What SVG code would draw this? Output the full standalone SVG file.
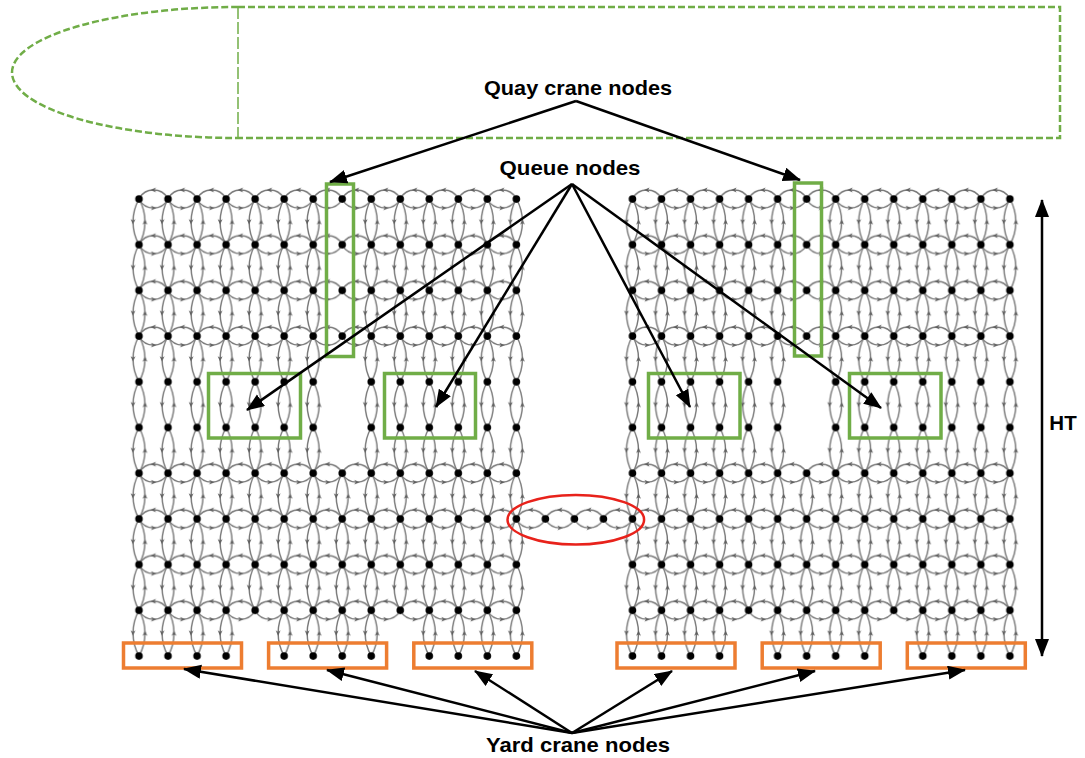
<svg xmlns="http://www.w3.org/2000/svg" width="1085" height="758" viewBox="0 0 1085 758">
<style>
.lbl{font-family:"Liberation Sans",Arial,sans-serif;font-weight:bold;font-size:20.5px;fill:#000;text-anchor:middle}
.arc{fill:none;stroke:#767676;stroke-width:1.4}
.ah{fill:#5e5e5e}
.node{fill:#000}
.qb{fill:none;stroke:#70AD47;stroke-width:3.5}
.yb{fill:none;stroke:#ED7D31;stroke-width:3.5}
.ar{fill:none;stroke:#000;stroke-width:2.5;marker-end:url(#head)}
.ship{fill:none;stroke:#70AD47;stroke-width:2.5;stroke-dasharray:7 3}
</style>
<defs>
<marker id="head" markerUnits="userSpaceOnUse" markerWidth="20" markerHeight="16" refX="17" refY="7" orient="auto-start-reverse"><path d="M0,0 L18,7 L0,14 z" fill="#000"/></marker>
<pattern id="ph" patternUnits="userSpaceOnUse" x="139" y="185" width="29.03" height="45.7">
<path class="arc" d="M0,14 A16.2,16.2 0 0 1 29.03,14 M0,14 A16.2,16.2 0 0 0 29.03,14"/>
<path class="ah" d="M11.5,5 L17,2.6 L15.5,5 L17,7.4 z M17.5,23 L12,20.6 L13.5,23 L12,25.4 z"/>
</pattern>
<pattern id="pv" patternUnits="userSpaceOnUse" x="129" y="199" width="29.03" height="45.7">
<path class="arc" d="M10,0 A46.5,46.5 0 0 0 10,45.7 M10,0 A46.5,46.5 0 0 1 10,45.7"/>
<path class="ah" d="M4,25.6 L1.6,20 L4,21.5 L6.4,20 z M16,20.1 L13.6,25.7 L16,24.2 L18.4,25.7 z"/>
</pattern>
<pattern id="pn" patternUnits="userSpaceOnUse" x="129" y="189" width="29.03" height="45.7">
<circle class="node" cx="10" cy="10" r="3.8"/>
</pattern>
</defs>
<rect width="1085" height="758" fill="#fff"/>
<g id="ship">
<path class="ship" d="M238,7 H1060 V138 H238"/>
<path class="ship" d="M238,7 A226,65.5 0 0 0 238,138"/>
<path fill="none" stroke="#70AD47" stroke-width="1.5" stroke-dasharray="12 3" d="M238,7 V138"/>
</g>
<g id="grid">
<g id="horizontal-links" fill="url(#ph)">
<rect x="139" y="185" width="377.39" height="165.1"/>
<rect x="632.51" y="185" width="377.39" height="165.1"/>
<rect x="139" y="459.2" width="377.39" height="165.1"/>
<rect x="632.51" y="459.2" width="377.39" height="165.1"/>
<rect x="516.39" y="504.9" width="116.12" height="28"/>
</g>
<g id="vertical-links" fill="url(#pv)">
<rect x="129" y="199" width="203.21" height="274.2"/>
<rect x="361.24" y="199" width="174.18" height="274.2"/>
<rect x="129" y="473.2" width="406.42" height="137.1"/>
<rect x="129" y="610.3" width="116.12" height="45.7"/>
<rect x="274.15" y="610.3" width="116.12" height="45.7"/>
<rect x="419.3" y="610.3" width="116.12" height="45.7"/>
<rect x="622.51" y="199" width="174.18" height="274.2"/>
<rect x="825.72" y="199" width="203.21" height="274.2"/>
<rect x="622.51" y="473.2" width="406.42" height="137.1"/>
<rect x="622.51" y="610.3" width="116.12" height="45.7"/>
<rect x="767.66" y="610.3" width="116.12" height="45.7"/>
<rect x="912.81" y="610.3" width="116.12" height="45.7"/>
</g>
<g id="grid-nodes" fill="url(#pn)">
<rect x="129" y="189" width="406.42" height="182.8"/>
<rect x="622.51" y="189" width="406.42" height="182.8"/>
<rect x="129" y="371.8" width="203.21" height="91.4"/>
<rect x="361.24" y="371.8" width="174.18" height="91.4"/>
<rect x="622.51" y="371.8" width="174.18" height="91.4"/>
<rect x="825.72" y="371.8" width="203.21" height="91.4"/>
<rect x="129" y="463.2" width="406.42" height="182.8"/>
<rect x="622.51" y="463.2" width="406.42" height="182.8"/>
<rect x="535.42" y="508.9" width="87.09" height="20"/>
<rect x="129" y="646" width="116.12" height="20"/>
<rect x="274.15" y="646" width="116.12" height="20"/>
<rect x="419.3" y="646" width="116.12" height="20"/>
<rect x="622.51" y="646" width="116.12" height="20"/>
<rect x="767.66" y="646" width="116.12" height="20"/>
<rect x="912.81" y="646" width="116.12" height="20"/>
</g>
</g>
<g id="quay-crane-nodes">
<rect class="qb" x="326.5" y="184" width="27" height="172.5"/>
<rect class="qb" x="794.5" y="183" width="27" height="173"/>
</g>
<g id="queue-nodes">
<rect class="qb" x="208.5" y="373.5" width="92" height="64.5"/>
<rect class="qb" x="384.5" y="373.5" width="91" height="64.5"/>
<rect class="qb" x="648.5" y="373.5" width="91.5" height="64.5"/>
<rect class="qb" x="849.5" y="373.5" width="91.5" height="64.5"/>
</g>
<g id="yard-crane-nodes">
<rect class="yb" x="123.5" y="643" width="118" height="25"/>
<rect class="yb" x="268.6" y="643" width="118" height="25"/>
<rect class="yb" x="413.8" y="643" width="118" height="25"/>
<rect class="yb" x="617" y="643" width="118" height="25"/>
<rect class="yb" x="762.2" y="643" width="118" height="25"/>
<rect class="yb" x="907.3" y="643" width="118" height="25"/>
</g>
<g id="highlight">
<ellipse cx="575.8" cy="519.7" rx="68.3" ry="24.8" fill="none" stroke="#E8221B" stroke-width="2.5"/>
</g>
<g id="connectors">
<path class="ar" d="M576,101 L330,182"/>
<path class="ar" d="M576,101 L800,180"/>
<path class="ar" d="M572,184 L247,410"/>
<path class="ar" d="M572,184 L436,407"/>
<path class="ar" d="M572,184 L690,407"/>
<path class="ar" d="M572,184 L881,408"/>
<path class="ar" d="M572,733 L184,669"/>
<path class="ar" d="M572,733 L327,670"/>
<path class="ar" d="M572,733 L475,671"/>
<path class="ar" d="M572,733 L672,671"/>
<path class="ar" d="M572,733 L815,671"/>
<path class="ar" d="M572,733 L965,670"/>
<path class="ar" d="M1042,200 L1042,656" style="marker-start:url(#head)"/>
</g>
<g id="labels">
<text class="lbl" x="578" y="95" textLength="188" lengthAdjust="spacingAndGlyphs">Quay crane nodes</text>
<text class="lbl" x="570" y="175" textLength="141" lengthAdjust="spacingAndGlyphs">Queue nodes</text>
<text class="lbl" x="578" y="752" textLength="184" lengthAdjust="spacingAndGlyphs">Yard crane nodes</text>
<text class="lbl" x="1063" y="430">HT</text>
</g>
</svg>
